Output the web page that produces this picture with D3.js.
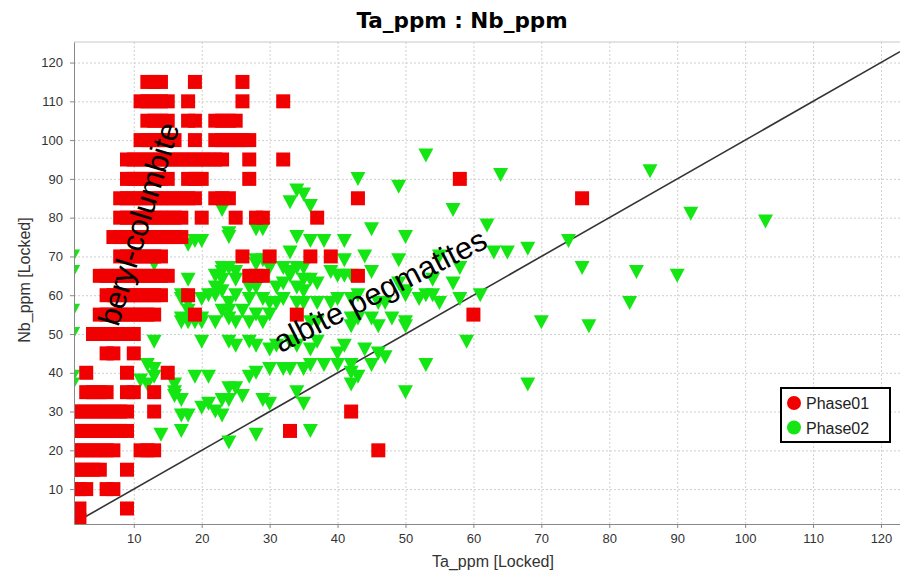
<!DOCTYPE html>
<html>
<head>
<meta charset="utf-8">
<script src="https://d3js.org/d3.v7.min.js"></script>
<style>
    body { margin: 0; background: #fff; }
    .tick text { font-family: 'Liberation Sans', Arial, sans-serif; font-size: 13px; fill: #333; }
    .axis path, .axis line { stroke: #888; }
    .grid line { stroke: #cfcfcf; stroke-dasharray: 2,2; }
    .grid path { display: none; }
    .axisLabel { font-family: 'Liberation Sans', Arial, sans-serif; font-size: 16px; fill: #333; }
    .title { font-family: 'DejaVu Sans', sans-serif; font-weight: bold; font-size: 21.5px; fill: #000; }
    .note { font-family: 'Liberation Sans', Arial, sans-serif; font-size: 31px; fill: #000; }
    .legendText { font-family: 'Liberation Sans', Arial, sans-serif; font-size: 16px; fill: #222; }
</style>
</head>
<body>
<div id="chart"></div>
<script>
// Phase01: Nb value of each row, with the Ta values sitting on that row
const phase01Rows = [
    [115, [12,13,14,19,26]],
    [110, [11,12,13,14,15,18,26,32]],
    [105, [12,13,14,15,18,19,22,23,24,25]],
    [100, [11,12,13,14,15,16,19,22,23,24,25,26,27]],
    [95,  [9,10,11,12,13,14,15,16,17,18,19,20,21,22,23,27,32]],
    [90,  [9,10,11,12,13,14,15,18,19,20,27,58]],
    [85,  [8,9,10,11,12,13,14,15,16,17,18,19,22,23,24,43,76]],
    [80,  [8,9,10,11,12,13,14,15,16,17,20,25,28,29,37]],
    [75,  [7,8,9,10,11,12,13,14,15,16,17]],
    [70,  [8,9,10,11,12,13,14,26,30,36,39]],
    [65,  [5,6,7,8,9,10,11,12,13,14,15,27,28,29,43]],
    [60,  [6,7,8,9,10,11,12,13,14,18]],
    [55,  [5,6,7,8,9,10,11,12,13,19,34,60]],
    [50,  [4,5,6,7,8,9,10]],
    [45,  [6,7,10]],
    [40,  [3,9,15]],
    [35,  [3,4,5,6,9,10,13]],
    [30,  [1,2,3,4,5,6,7,8,9,13,42]],
    [25,  [1,2,3,4,5,6,7,8,9,33]],
    [20,  [1,2,3,4,5,6,7,11,12,13,46]],
    [15,  [1,2,3,4,5,9]],
    [10,  [1,2,3,6,7]],
    [5,   [2,9]],
    [2,   [2]]
];

// Phase02: [Ta, Nb]
const phase02 = [
    [53,96],[86,92],[64,91],[43,90],[49,88],[57,82],[62,78],[92,81],[103,79],
    [74,74],[68,72],[63,71],[65,71],[76,67],[84,66],[90,65],[83,58],[77,52],
    [70,53],[61,60],[59,48],[68,37],[50,35],[36,25],[28,24],[24,22],
    [50,75],[45,77],[55,70],[58,67],[54,64],[57,63],[58,59],[49,63],[50,61],
    [55,58],[50,60],[52,59],[53,60],[54,60],
    [35,86],[33,84],[36,83],[23,82],[34,87],[24,76],[28,77],[29,77],[24,75],
    [18,73],[19,74],[20,74],[34,75],[36,74],[38,74],[41,74],
    [33,71],[44,70],[41,69],[49,69],[23,67],[24,67],[28,69],[29,69],[30,67],
    [32,67],[34,67],[35,67],[39,66],[40,65],[13,68],[28,68],[23,66],[25,66],
    [18,64],[22,65],[23,64],[25,64],[22,62],[23,61],[21,60],[27,62],[28,62],
    [31,62],[32,63],[33,66],[33,65],[35,64],[36,64],[34,62],[35,61],[37,63],
    [41,65],[42,65],[45,66],[40,59],[42,59],[43,60],[46,58],[47,58],
    [17,59],[18,58],[20,59],[22,60],[24,58],[25,60],[23,56],[24,56],[26,56],
    [27,59],[29,59],[30,58],[31,58],[28,55],[30,55],[32,59],[34,58],[35,58],
    [37,58],[39,58],[36,53],[37,53],[42,54],[43,54],[42,52],[45,54],[46,52],
    [48,54],[50,52],[50,53],[17,53],[18,53],[20,53],[22,53],[24,54],[25,53],
    [27,53],[29,53],[18,56],[19,53],[17,54],[20,54],[17,60],
    [13,48],[20,48],[24,48],[25,47],[27,48],[28,47],[30,46],[31,47],[33,48],
    [34,47],[36,46],[37,48],[40,45],[41,47],[44,46],[46,45],[47,44],
    [12,42],[13,41],[19,39],[21,39],[24,36],[25,36],[27,39],[28,40],[30,41],
    [32,41],[33,41],[35,41],[36,42],[38,42],[42,40],[43,39],[40,42],[42,42],
    [45,42],[53,42],[42,37],[11,38],[12,37],[13,39],[16,37],[16,35],
    [16,34],[17,33],[20,31],[21,32],[23,33],[17,29],[14,24],[17,25],[23,29],
    [22,30],[24,33],[26,34],[29,33],[30,32],[34,35],[35,32],[18,29],
    [1,70],[1,66],[1,56],[1,50],[1,39],[1,37]
];

const xTicks = [10,20,30,40,50,60,70,80,90,100,110,120];
const yTicks = [10,20,30,40,50,60,70,80,90,100,110,120];
const seriesNames = ['Phase01', 'Phase02'];
const seriesColors = ['#f00000', '#14e614'];

function draw_chart () {
    let margin = {top: 42, right: 0, bottom: 48, left: 74};
    let width = 900 - margin.left - margin.right;
    let height = 572 - margin.top - margin.bottom;
    let svg = d3.select('#chart').append('svg')
        .attr('width', 900)
        .attr('height', 572)
        .append('g')
        .attr('transform', 'translate(' + margin.left + ',' + margin.top + ')');
    let x = d3.scaleLinear()
        .range([0, width])
        .domain([1.2, 122.8]);
    let y = d3.scaleLinear()
        .range([height, 0])
        .domain([1, 125.3]);
    let phase01 = phase01Rows.flatMap(function(r) { return r[1].map(function(t) { return [t, r[0]]; }); });

    svg.append('clipPath').attr('id', 'plotClip')
        .append('rect').attr('width', width).attr('height', height);
    svg.append('line') // plot outline top
        .attr('x1', 0).attr('x2', width).attr('y1', 0).attr('y2', 0)
        .attr('stroke', '#c8c8c8');
    svg.append('g') // vertical gridlines
        .attr('class', 'grid')
        .attr('transform', 'translate(0,' + height + ')')
        .call(d3.axisBottom(x).tickValues(xTicks).tickSize(-height).tickFormat(''));
    svg.append('g') // horizontal gridlines
        .attr('class', 'grid')
        .call(d3.axisLeft(y).tickValues(yTicks).tickSize(-width).tickFormat(''));

    let plot = svg.append('g').attr('clip-path', 'url(#plotClip)');
    plot.append('line') // 1:1 line
        .attr('stroke', '#333')
        .attr('stroke-width', 1.6)
        .attr('x1', x(1.2)).attr('y1', y(1.2))
        .attr('x2', x(122.8)).attr('y2', y(122.8));
    plot.append('g').selectAll('path') // Phase02 triangles
        .data(phase02).enter().append('path')
        .attr('d', 'M -7.5 -7 L 7.5 -7 L 0 7 Z')
        .attr('transform', function(d) { return 'translate(' + x(d[0]) + ',' + y(d[1]) + ')'; })
        .attr('fill', seriesColors[1]);
    plot.append('g').selectAll('rect') // Phase01 squares
        .data(phase01).enter().append('rect')
        .attr('x', function(d) { return x(d[0]) - 7; })
        .attr('y', function(d) { return y(d[1]) - 7; })
        .attr('width', 14)
        .attr('height', 14)
        .attr('fill', seriesColors[0]);

    svg.append('g') // x axis
        .attr('class', 'axis')
        .attr('transform', 'translate(0,' + height + ')')
        .call(d3.axisBottom(x).tickValues(xTicks).tickSize(4).tickSizeOuter(0).tickPadding(6));
    svg.append('g') // y axis
        .attr('class', 'axis')
        .call(d3.axisLeft(y).tickValues(yTicks).tickSize(4).tickSizeOuter(0).tickPadding(7));

    svg.append('text') // title
        .attr('class', 'title')
        .attr('x', 462 - margin.left)
        .attr('y', 28 - margin.top)
        .attr('text-anchor', 'middle')
        .text('Ta_ppm : Nb_ppm');
    svg.append('text') // x axis label
        .attr('class', 'axisLabel')
        .attr('x', 493 - margin.left)
        .attr('y', 567 - margin.top)
        .attr('text-anchor', 'middle')
        .text('Ta_ppm [Locked]');
    svg.append('text') // y axis label
        .attr('class', 'axisLabel')
        .attr('transform', 'translate(' + (30 - margin.left) + ',' + (280 - margin.top) + ') rotate(-90)')
        .attr('text-anchor', 'middle')
        .text('Nb_ppm [Locked]');

    svg.append('text') // annotation over Phase01
        .attr('class', 'note')
        .attr('transform', 'translate(' + (149 - margin.left) + ',' + (227 - margin.top) + ') rotate(-73)')
        .attr('text-anchor', 'middle')
        .text('beryl-columbite');
    svg.append('text') // annotation over Phase02
        .attr('class', 'note')
        .attr('transform', 'translate(' + (385 - margin.left) + ',' + (300 - margin.top) + ') rotate(-27)')
        .attr('text-anchor', 'middle')
        .text('albite pegmatites');

    let legend = svg.append('g') // legend
        .attr('transform', 'translate(' + (781 - margin.left) + ',' + (388 - margin.top) + ')');
    legend.append('rect')
        .attr('width', 109).attr('height', 54)
        .attr('fill', '#fff').attr('stroke', '#000').attr('stroke-width', 2);
    legend.selectAll('circle')
        .data(seriesNames).enter().append('circle')
        .attr('cx', 13)
        .attr('cy', function(d, i) { return 15 + i * 24.5; })
        .attr('r', 7)
        .attr('fill', function(d, i) { return seriesColors[i]; });
    legend.selectAll('text')
        .data(seriesNames).enter().append('text')
        .attr('class', 'legendText')
        .attr('x', 25)
        .attr('y', function(d, i) { return 21 + i * 24.5; })
        .text(function(d) { return d; });
}

draw_chart();
</script>
</body>
</html>
